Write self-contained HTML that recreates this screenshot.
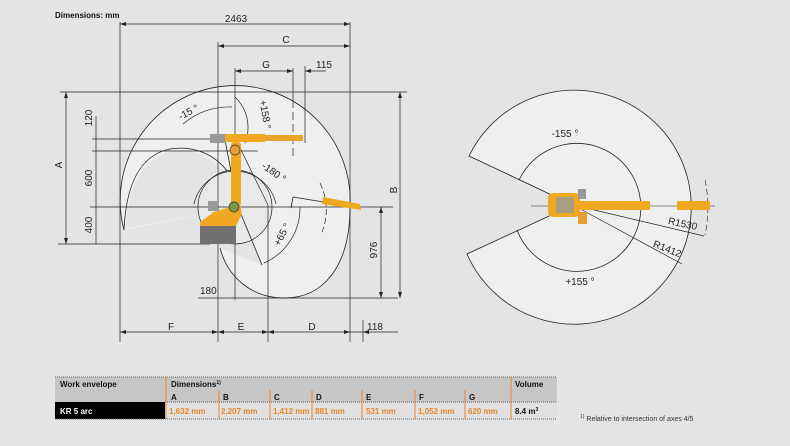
<!DOCTYPE html>
<html><head><meta charset="utf-8"><style>
html,body{margin:0;padding:0;background:#e3e4e5;}
svg{display:block;font-family:"Liberation Sans",sans-serif;}
.t{font-size:10px;fill:#222;}
.s{font-size:8px;fill:#111;font-weight:bold;}
</style></head><body>
<svg width="790" height="446" viewBox="0 0 790 446">
<rect width="790" height="446" fill="#e3e4e5"/>
<!-- left envelope -->
<path d="M124,230 A115,115 0 1 1 350,207 C350,268 322,298 285,298 C252,298 228,278 220,248 L262,265 L238,207 Z" fill="#eeefef" stroke="none"/>
<path d="M124,230 A115,115 0 1 1 350,207 C350,268 322,298 285,298 C252,298 228,278 220,248" fill="none" stroke="#222" stroke-width="0.8"/>
<path d="M126,228 C128,190 140,160 170,152 C195,147 212,158 226,174 L238,207 Z" fill="#e3e4e5"/>
<path d="M124,230 C126,185 140,155 170,149 C195,145 215,155 228,172" fill="none" stroke="#222" stroke-width="0.8"/>
<circle cx="235" cy="207" r="37" fill="#e8e9e9" stroke="#222" stroke-width="0.7"/>
<path d="M238,207 L262,265 M225,140 L238,207" fill="none" stroke="#222" stroke-width="0.8"/>
<path d="M293,197 L354,207 M293,197 L291,208" fill="none" stroke="#222" stroke-width="0.8"/>
<path d="M240,148 L268,205" stroke="#222" stroke-width="0.7"/>
<path d="M183,124 A70,70 0 0 1 232,107" fill="none" stroke="#222" stroke-width="0.7"/>
<path d="M235,97 A42,42 0 0 1 245,143" fill="none" stroke="#222" stroke-width="0.7"/>
<path d="M194,204 A42,42 0 0 1 276,204" fill="none" stroke="#222" stroke-width="0.7"/>
<path d="M300,207 A60,60 0 0 1 264,263" fill="none" stroke="#222" stroke-width="0.7"/>
<!-- dimension lines -->
<g stroke="#222" stroke-width="0.7" fill="none">
<path d="M120,22V342 M350,22V342 M218,42V342 M235,68V300 M268,205V342 M305,66V143 M363,320V342"/>
<path d="M293,68V100" /><path d="M293,100V160" stroke-dasharray="8,4"/>
<path d="M120,24H350 M218,46H350 M235,71H293 M305,71H326"/>
<path d="M60,92H407 M66,92V244 M400,92V298 M381,207V298"/>
<path d="M96,116V244 M92,139H210 M92,151H258 M90,207H393 M58,244H210"/>
<path d="M198,298H255 M230,298H398 M120,332H398"/>
<path d="M320,183 A60,60 0 0 1 322,232" stroke-dasharray="6,3"/>
</g>
<g fill="#222">
<path d="M120,24l6,-2v4z M350,24l-6,-2v4z M218,46l6,-2v4z M350,46l-6,-2v4z M235,71l6,-2v4z M293,71l-6,-2v4z M305,71l6,-2v4z"/>
<path d="M66,92l-2,6h4z M66,244l-2,-6h4z M400,92l-2,6h4z M400,298l-2,-6h4z M381,207l-2,6h4z M381,298l-2,-6h4z"/>
<path d="M120,332l6,-2v4z M218,332l-6,-2v4z M218,332l6,-2v4z M268,332l-6,-2v4z M268,332l6,-2v4z M350,332l-6,-2v4z M363,332l6,-2v4z"/>
</g>
<!-- robot side -->
<g>
<rect x="210" y="134" width="16" height="9" fill="#999"/>
<rect x="225" y="134" width="40" height="8" fill="#f0a820"/>
<rect x="265" y="135" width="38" height="6" fill="#e8a428"/>
<rect x="231" y="142" width="10" height="64" rx="3" fill="#f0a820"/>
<circle cx="235" cy="150" r="5" fill="#e6a030" stroke="#333" stroke-width="0.7"/>
<rect x="208" y="201" width="10" height="10" fill="#999"/>
<path d="M200,222 L214,212 L240,204 L242,214 L236,226 L236,244 L200,244 Z" fill="#f0a820"/>
<rect x="200" y="226" width="36" height="18" fill="#707070"/>
<circle cx="234" cy="207" r="5" fill="#7a9a4a" stroke="#333" stroke-width="0.7"/>
<path d="M323,197 L360,204 L361,210 L322,204 Z" fill="#f0a820"/>
</g>
<!-- labels -->
<text x="55" y="18" class="s">Dimensions: mm</text>
<text x="236" y="22" class="t" text-anchor="middle">2463</text>
<text x="286" y="43" class="t" text-anchor="middle">C</text>
<text x="266" y="68" class="t" text-anchor="middle">G</text>
<text x="324" y="68" class="t" text-anchor="middle">115</text>
<text x="200" y="294" class="t">180</text>
<text x="171" y="330" class="t" text-anchor="middle">F</text>
<text x="241" y="330" class="t" text-anchor="middle">E</text>
<text x="312" y="330" class="t" text-anchor="middle">D</text>
<text x="375" y="330" class="t" text-anchor="middle">118</text>
<text class="t" transform="translate(62,165) rotate(-90)" text-anchor="middle">A</text>
<text class="t" transform="translate(92,118) rotate(-90)" text-anchor="middle">120</text>
<text class="t" transform="translate(92,178) rotate(-90)" text-anchor="middle">600</text>
<text class="t" transform="translate(92,225) rotate(-90)" text-anchor="middle">400</text>
<text class="t" transform="translate(397,190) rotate(-90)" text-anchor="middle">B</text>
<text class="t" transform="translate(377,250) rotate(-90)" text-anchor="middle">976</text>
<text class="t" transform="translate(190,115) rotate(-28)" text-anchor="middle">-15 °</text>
<text class="t" transform="translate(262,115) rotate(80)" text-anchor="middle">+158 °</text>
<text class="t" transform="translate(272,175) rotate(35)" text-anchor="middle">-180 °</text>
<text class="t" transform="translate(285,236) rotate(-62)" text-anchor="middle">+65 °</text>
<!-- right top view -->
<path d="M573,205 L469,156 A117,117 0 1 1 467,254 Z" fill="#eeefef" stroke="#222" stroke-width="0.8"/>
<path d="M519,180 A64,64 0 1 1 517,230" fill="none" stroke="#222" stroke-width="0.8"/>
<path d="M531,206H715" stroke="#222" stroke-width="0.6"/>
<path d="M573,205 L704,236 M573,205 L682,264" stroke="#222" stroke-width="0.7"/>
<path d="M705,180 A132,132 0 0 1 705,235" fill="none" stroke="#222" stroke-width="0.6" stroke-dasharray="6,3"/>
<rect x="548" y="193" width="32" height="24" rx="5" fill="#f0a820"/>
<rect x="556" y="197" width="18" height="16" fill="#999" opacity="0.8"/>
<rect x="578" y="189" width="8" height="10" fill="#999"/>
<rect x="580" y="201" width="70" height="9" fill="#f0a820"/>
<rect x="677" y="201" width="33" height="9" fill="#f0a820"/>
<rect x="578" y="212" width="9" height="12" fill="#e6a030"/>
<text x="565" y="137" class="t" text-anchor="middle">-155 °</text>
<text x="580" y="285" class="t" text-anchor="middle">+155 °</text>
<text class="t" transform="translate(682,227) rotate(12)" text-anchor="middle">R1530</text>
<text class="t" transform="translate(666,252) rotate(22)" text-anchor="middle">R1412</text>
<!-- table -->
<rect x="55" y="377" width="502" height="25" fill="#c6c6c6"/>
<rect x="55" y="402" width="502" height="17" fill="#e0e0e0"/>
<rect x="55" y="402" width="110" height="17" fill="#000"/>
<path d="M55,377H557 M165,402H557 M55,419H557" stroke="#666" stroke-width="1" stroke-dasharray="1,1"/>
<g stroke="#e8872a" stroke-width="1">
<path d="M166,377V419 M511,377V419 M219,390V419 M270,390V419 M312,390V419 M362,390V419 M415,390V419 M465,390V419"/>
</g>
<text x="60" y="387" class="s">Work envelope</text>
<text x="171" y="387" class="s">Dimensions<tspan font-size="5" dy="-3">1)</tspan></text>
<text x="515" y="387" class="s">Volume</text>
<text x="171" y="400" class="s">A</text><text x="223" y="400" class="s">B</text><text x="274" y="400" class="s">C</text><text x="316" y="400" class="s">D</text><text x="366" y="400" class="s">E</text><text x="419" y="400" class="s">F</text><text x="469" y="400" class="s">G</text>
<text x="60" y="414" class="s" style="fill:#fff">KR 5 arc</text>
<text x="515" y="414" class="s">8.4 m<tspan font-size="5" dy="-3">3</tspan></text>
<g style="font-size:8px;font-weight:bold;fill:#e8872a">
<text x="169" y="414">1,632 mm</text><text x="221" y="414">2,207 mm</text><text x="273" y="414">1,412 mm</text><text x="315" y="414">881 mm</text><text x="366" y="414">531 mm</text><text x="418" y="414">1,052 mm</text><text x="468" y="414">620 mm</text>
</g>
<text x="580" y="421" style="font-size:7px;fill:#333"><tspan font-size="5" dy="-3">1)</tspan><tspan dy="3"> Relative to intersection of axes 4/5</tspan></text>
</svg>
</body></html>
